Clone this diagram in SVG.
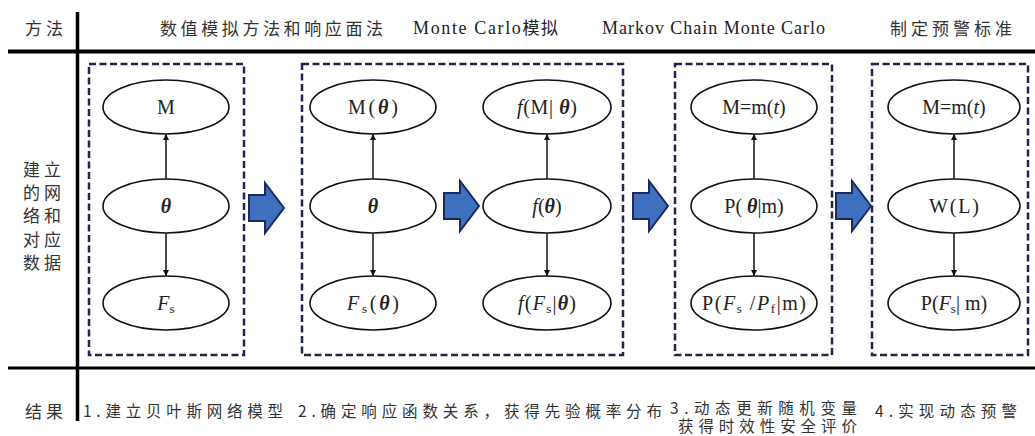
<svg xmlns="http://www.w3.org/2000/svg" width="1035" height="436" viewBox="0 0 1035 436">
<defs>
<style>
.cn{font-family:"Noto Sans CJK SC","Noto Sans",sans-serif;font-size:17px;fill:#333;}
.ft{font-family:"Noto Sans CJK SC","Noto Sans",sans-serif;font-size:15.5px;fill:#333;}
.lat{font-family:"Liberation Serif","Noto Sans CJK SC",serif;font-size:18px;fill:#222;}
.box{fill:none;stroke:#1e2555;stroke-width:2.5;stroke-dasharray:7,3.5;}
.el{fill:#fff;stroke:#111;stroke-width:1.6;}
.lbl{font-family:"Liberation Serif",serif;font-size:20px;fill:#222;text-anchor:middle;}
.th{font-weight:bold;font-style:italic;}
.it{font-style:italic;}
.edge{stroke:#111;stroke-width:1.5;fill:none;marker-end:url(#ah);}
.big{fill:#3f6fbf;stroke:#1d2a5c;stroke-width:2;stroke-linejoin:miter;}
.rule{stroke:#000;fill:none;}
</style>
<marker id="ah" viewBox="0 0 10 10" refX="10" refY="5" markerWidth="6" markerHeight="6" orient="auto" markerUnits="userSpaceOnUse">
<path d="M0,0 L10,5 L0,10 z" fill="#111"/>
</marker>
<path id="bigArrow" d="M0,12 L16,12 L16,0 L35,25 L16,50 L16,38 L0,38 z"/>
</defs>
<rect width="1035" height="436" fill="#fff"/>

<g id="table">
<line class="rule" x1="8" y1="51.5" x2="1035" y2="51.5" stroke-width="4"/>
<line class="rule" x1="8" y1="368" x2="1035" y2="368" stroke-width="3"/>
<line class="rule" x1="77.5" y1="12" x2="77.5" y2="421" stroke-width="3.5"/>
</g>

<g id="headers">
<text class="cn" x="25" y="35" textLength="38" lengthAdjust="spacing">方法</text>
<text class="cn" x="160" y="35" textLength="223" lengthAdjust="spacing">数值模拟方法和响应面法</text>
<text class="lat" x="413" y="34" textLength="145" lengthAdjust="spacing">Monte Carlo<tspan class="cn" style="font-size:17px;fill:#222">模拟</tspan></text>
<text class="lat" x="602" y="34" textLength="223" lengthAdjust="spacing">Markov Chain Monte Carlo</text>
<text class="cn" x="890" y="35" textLength="122" lengthAdjust="spacing">制定预警标准</text>
</g>

<g id="row-label">
<text class="cn" x="23" y="176">建</text><text class="cn" x="44" y="176">立</text>
<text class="cn" x="23" y="199">的</text><text class="cn" x="44" y="199">网</text>
<text class="cn" x="23" y="222">络</text><text class="cn" x="44" y="222">和</text>
<text class="cn" x="23" y="246">对</text><text class="cn" x="44" y="246">应</text>
<text class="cn" x="23" y="269">数</text><text class="cn" x="44" y="269">据</text>
</g>

<g id="results">
<text class="cn" x="25" y="418" textLength="38" lengthAdjust="spacing">结果</text>
<text class="ft" x="83" y="417" textLength="200" lengthAdjust="spacing">1.建立贝叶斯网络模型</text>
<text class="ft" x="298" y="417" textLength="364" lengthAdjust="spacing">2.确定响应函数关系，获得先验概率分布</text>
<text class="ft"><tspan x="670" y="414" textLength="187" lengthAdjust="spacing">3.动态更新随机变量</tspan><tspan x="678" y="432" textLength="179" lengthAdjust="spacing">获得时效性安全评价</tspan></text>
<text class="ft" x="875" y="417" textLength="142" lengthAdjust="spacing">4.实现动态预警</text>
</g>

<g id="boxes">
<rect id="box1" class="box" x="89" y="64" width="155" height="291"/>
<rect id="box2" class="box" x="302" y="64" width="321" height="291"/>
<rect id="box3" class="box" x="675" y="64" width="157" height="291"/>
<rect id="box4" class="box" x="872" y="64" width="156" height="291"/>
</g>

<g id="connectors">
<line class="edge" x1="166" y1="179" x2="166" y2="134"/>
<line class="edge" x1="166" y1="233" x2="166" y2="276"/>
<line class="edge" x1="373" y1="179" x2="373" y2="134"/>
<line class="edge" x1="373" y1="233" x2="373" y2="276"/>
<line class="edge" x1="547" y1="179" x2="547" y2="134"/>
<line class="edge" x1="547" y1="233" x2="547" y2="276"/>
<line class="edge" x1="754" y1="179" x2="754" y2="134"/>
<line class="edge" x1="754" y1="233" x2="754" y2="276"/>
<line class="edge" x1="954" y1="179" x2="954" y2="134"/>
<line class="edge" x1="954" y1="233" x2="954" y2="276"/>
<use class="big" href="#bigArrow" x="249" y="183"/>
<use class="big" href="#bigArrow" x="444" y="181"/>
<use class="big" href="#bigArrow" x="633" y="181"/>
<use class="big" href="#bigArrow" x="836" y="181"/>
</g>

<g id="n1-M"><ellipse class="el" cx="166" cy="107" rx="63" ry="27"/><text class="lbl" x="166" y="114">M</text></g>
<g id="n1-theta"><ellipse class="el" cx="166" cy="206" rx="63" ry="27"/><text class="lbl th" x="166" y="213">θ</text></g>
<g id="n1-Fs"><ellipse class="el" cx="166" cy="303" rx="63" ry="27"/><text class="lbl" x="166" y="310"><tspan class="it">F</tspan><tspan font-size="13" dy="3">s</tspan></text></g>

<g id="n2-M"><ellipse class="el" cx="373" cy="107" rx="63" ry="27"/><text class="lbl" x="373" y="114" textLength="50" lengthAdjust="spacing">M(<tspan class="th">θ</tspan>)</text></g>
<g id="n2-theta"><ellipse class="el" cx="373" cy="206" rx="63" ry="27"/><text class="lbl th" x="373" y="213">θ</text></g>
<g id="n2-Fs"><ellipse class="el" cx="373" cy="303" rx="63" ry="27"/><text class="lbl" x="373" y="310" textLength="52" lengthAdjust="spacing"><tspan class="it">F</tspan><tspan font-size="13" dy="3">s</tspan><tspan dy="-3">(</tspan><tspan class="th">θ</tspan>)</text></g>

<g id="n3-fM"><ellipse class="el" cx="547" cy="107" rx="64" ry="27"/><text class="lbl" x="547" y="114" textLength="60" lengthAdjust="spacing"><tspan class="it">f</tspan>(M| <tspan class="th">θ</tspan>)</text></g>
<g id="n3-ftheta"><ellipse class="el" cx="547" cy="206" rx="64" ry="27"/><text class="lbl" x="547" y="213"><tspan class="it">f</tspan>(<tspan class="th">θ</tspan>)</text></g>
<g id="n3-fFs"><ellipse class="el" cx="547" cy="303" rx="64" ry="27"/><text class="lbl" x="547" y="310" textLength="58" lengthAdjust="spacing"><tspan class="it">f</tspan>(<tspan class="it">F</tspan><tspan font-size="13" dy="3">s</tspan><tspan dy="-3">|</tspan><tspan class="th">θ</tspan>)</text></g>

<g id="n4-M"><ellipse class="el" cx="754" cy="107" rx="63" ry="27"/><text class="lbl" x="754" y="114">M=m(<tspan class="it">t</tspan>)</text></g>
<g id="n4-P"><ellipse class="el" cx="754" cy="206" rx="63" ry="27"/><text class="lbl" x="754" y="213">P( <tspan class="th">θ</tspan>|m)</text></g>
<g id="n4-PF"><ellipse class="el" cx="754" cy="303" rx="63" ry="27"/><text class="lbl" x="754" y="310" textLength="104" lengthAdjust="spacing">P(<tspan class="it">F</tspan><tspan font-size="13" dy="3">s</tspan><tspan dy="-3"> /</tspan><tspan class="it">P</tspan><tspan font-size="13" dy="3">f</tspan><tspan dy="-3">|m)</tspan></text></g>

<g id="n5-M"><ellipse class="el" cx="954" cy="107" rx="66" ry="27"/><text class="lbl" x="954" y="114">M=m(<tspan class="it">t</tspan>)</text></g>
<g id="n5-W"><ellipse class="el" cx="954" cy="206" rx="66" ry="27"/><text class="lbl" x="954" y="213" textLength="50" lengthAdjust="spacing">W(L)</text></g>
<g id="n5-PF"><ellipse class="el" cx="954" cy="303" rx="66" ry="27"/><text class="lbl" x="954" y="310">P(<tspan class="it">F</tspan><tspan font-size="13" dy="3">s</tspan><tspan dy="-3">| m)</tspan></text></g>
</svg>
